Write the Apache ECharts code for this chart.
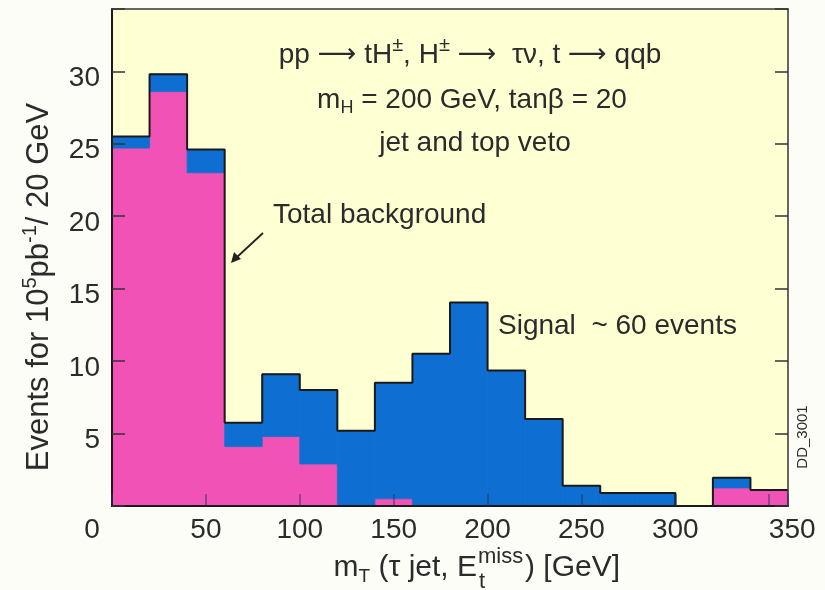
<!DOCTYPE html>
<html>
<head>
<meta charset="utf-8">
<script src="https://cdn.jsdelivr.net/npm/echarts@6/dist/echarts.min.js"></script>
<style>
  html, body { margin: 0; padding: 0; background: #fdfdf8; }
  #chart { width: 825px; height: 590px; }
</style>
</head>
<body>
<div id="chart"></div>
<script>
// bin lower edges, 20 GeV wide
const binEdges = [0, 20, 40, 60, 80, 100, 120, 140, 160, 180, 200, 220, 240, 260, 280, 300, 320, 340]
const binWidth = 20
// total background (pink)
const background = [24.7, 28.6, 23.0, 4.1, 4.8, 2.9, 0, 0.5, 0, 0, 0, 0, 0, 0, 0, 0, 1.25, 1.1]
// signal stacked on the background (blue)
const signal = [0.8, 1.2, 1.6, 1.65, 4.3, 5.1, 5.2, 8.0, 10.5, 14.05, 9.35, 6.0, 1.4, 0.9, 0.9, 0, 0.7, 0]
const xTicks = [0, 50, 100, 150, 200, 250, 300, 350]
const yTicks = [5, 10, 15, 20, 25, 30]

const FONT = '"Liberation Sans", Arial, sans-serif'
const TXT = '#2b2b2b'
const PINK = '#f052b5'
const BLUE = '#0f6ed2'

const bgRects = binEdges.map((x, i) => [x, x + binWidth, 0, background[i]])
const sigRects = binEdges.map((x, i) => [x, x + binWidth, background[i], background[i] + signal[i]])
const outline = binEdges.map((x, i) => [x, background[i] + signal[i]])
outline.push([binEdges[binEdges.length - 1] + binWidth, background[background.length - 1] + signal[signal.length - 1]])

function rectRenderer(color) {
    return function (params, api) {
        const p0 = api.coord([api.value(0), api.value(3)])
        const p1 = api.coord([api.value(1), api.value(2)])
        if (p1[1] - p0[1] <= 0) return null
        return {
            type: 'rect',
            shape: { x: p0[0], y: p0[1], width: p1[0] - p0[0], height: p1[1] - p0[1] },
            style: { fill: color, stroke: color, lineWidth: 0.8 }
        }
    }
}

const arrowRich = { fontSize: 27, fontFamily: '"DejaVu Sans", sans-serif', fill: TXT }

const chart = echarts.init(document.getElementById('chart'))

const option = {
    backgroundColor: '#fdfdf8',
    animation: false,
    grid: {
        left: 112, right: 37, top: 9, bottom: 84,
        show: true, backgroundColor: '#ffffd4', borderWidth: 0
    },
    xAxis: [
        {
            type: 'value', min: 0, max: 360, interval: 50, z: 5,
            axisLine: { onZero: false, lineStyle: { color: '#1a1a1a', width: 2 } },
            axisTick: { inside: true, length: 12, lineStyle: { color: '#223355', width: 1.5, opacity: 0.6 } },
            splitLine: { show: false },
            axisLabel: {
                margin: 10, fontSize: 28, color: TXT, fontFamily: FONT,
                formatter: v => v === 0 ? '{a|0}' : v === 350 ? '{b|350}' : (xTicks.includes(v) ? String(v) : ''),
                rich: {
                    a: { fontSize: 28, color: TXT, fontFamily: FONT, padding: [0, 40, 0, 0] },
                    b: { fontSize: 28, color: TXT, fontFamily: FONT, padding: [0, 0, 0, 46] }
                }
            }
        },
        {
            type: 'value', position: 'top', min: 0, max: 360, interval: 50, z: 5,
            axisLine: { onZero: false, lineStyle: { color: '#333', width: 1.5 } },
            axisTick: { show: false }, axisLabel: { show: false }, splitLine: { show: false }
        }
    ],
    yAxis: [
        {
            type: 'value', min: 0, max: 34.3, interval: 5, z: 5,
            axisLine: { show: true, onZero: false, lineStyle: { color: '#1a1a1a', width: 2 } },
            axisTick: { show: true, inside: true, length: 13, lineStyle: { color: '#333', width: 1.5 } },
            splitLine: { show: false },
            axisLabel: {
                margin: 12, fontSize: 28, color: TXT, fontFamily: FONT,
                formatter: v => yTicks.includes(v) ? '{v|' + v + '}' : '',
                rich: { v: { fontSize: 28, color: TXT, fontFamily: FONT, lineHeight: 28, padding: [14, 0, 0, 0] } }
            }
        },
        {
            type: 'value', position: 'right', min: 0, max: 34.3, interval: 5, z: 5,
            axisLine: { show: true, onZero: false, lineStyle: { color: '#333', width: 1.5 } },
            axisTick: { show: true, inside: true, length: 13, lineStyle: { color: '#333', width: 1.5 } },
            splitLine: { show: false }, axisLabel: { show: false }
        }
    ],
    series: [
        {
            name: 'Total background', type: 'custom', renderItem: rectRenderer(PINK),
            encode: { x: [0, 1], y: [2, 3] },
            data: bgRects, z: 2
        },
        {
            name: 'Signal', type: 'custom', renderItem: rectRenderer(BLUE),
            encode: { x: [0, 1], y: [2, 3] },
            data: sigRects, z: 2
        },
        {
            name: 'Outline', type: 'line', step: 'end', symbol: 'none',
            lineStyle: { color: '#1a1a1a', width: 2 },
            data: outline, z: 3
        }
    ],
    graphic: [
        {
            type: 'text',
            style: {
                x: 470, y: 55, align: 'center', verticalAlign: 'middle',
                text: 'pp {ar|\u27f6} tH{sup|\u00b1}, H{sup|\u00b1} {ar|\u27f6}  \u03c4\u03bd, t {ar|\u27f6} qqb',
                font: '28px ' + FONT, fill: TXT,
                rich: {
                    sup: { fontSize: 20, fontFamily: FONT, fill: TXT, padding: [0, 0, 20, 0] },
                    ar: arrowRich
                }
            }
        },
        {
            type: 'text',
            style: {
                x: 472, y: 100, align: 'center', verticalAlign: 'middle',
                text: 'm{sub|H} = 200 GeV, tan\u03b2 = 20',
                font: '28px ' + FONT, fill: TXT,
                rich: { sub: { fontSize: 18, fontFamily: FONT, fill: TXT, padding: [16, 0, 0, 0] } }
            }
        },
        {
            type: 'text',
            style: {
                x: 475, y: 143, align: 'center', verticalAlign: 'middle',
                text: 'jet and top veto', font: '28px ' + FONT, fill: TXT
            }
        },
        {
            type: 'text',
            style: {
                x: 273, y: 215, align: 'left', verticalAlign: 'middle',
                text: 'Total background', font: '28px ' + FONT, fill: TXT
            }
        },
        {
            type: 'line',
            shape: { x1: 263, y1: 233, x2: 236, y2: 258 },
            style: { stroke: '#222', lineWidth: 1.8 }
        },
        {
            type: 'polygon',
            shape: { points: [[231, 263], [234, 252], [241, 259]] },
            style: { fill: '#222' }
        },
        {
            type: 'text',
            style: {
                x: 498, y: 326, align: 'left', verticalAlign: 'middle',
                text: 'Signal  ~ 60 events', font: '28px ' + FONT, fill: TXT
            }
        },
        {
            type: 'text', x: 803, y: 437, rotation: Math.PI / 2,
            style: {
                x: 0, y: 0, align: 'center', verticalAlign: 'middle',
                text: 'DD_3001', font: '15px ' + FONT, fill: TXT
            }
        },
        {
            type: 'text', x: 39, y: 287, rotation: Math.PI / 2,
            style: {
                x: 0, y: 0, align: 'center', verticalAlign: 'middle',
                text: 'Events for 10{sup|5}pb{sup|-1}/ 20 GeV',
                font: '31px ' + FONT, fill: TXT,
                rich: { sup: { fontSize: 20, fontFamily: FONT, fill: TXT, padding: [0, 0, 17, 0] } }
            }
        },
        // x axis title, split so E carries both t (below) and miss (above)
        {
            type: 'text',
            style: {
                x: 477, y: 568, align: 'right', verticalAlign: 'middle',
                text: 'm{sub|T} (\u03c4 jet, E',
                font: '30px ' + FONT, fill: TXT,
                rich: { sub: { fontSize: 19, fontFamily: FONT, fill: TXT, padding: [17, 0, 0, 0] } }
            }
        },
        {
            type: 'text',
            style: {
                x: 478, y: 557, align: 'left', verticalAlign: 'middle',
                text: 'miss', font: '22px ' + FONT, fill: TXT
            }
        },
        {
            type: 'text',
            style: {
                x: 479, y: 582, align: 'left', verticalAlign: 'middle',
                text: 't', font: '22px ' + FONT, fill: TXT
            }
        },
        {
            type: 'text',
            style: {
                x: 525, y: 568, align: 'left', verticalAlign: 'middle',
                text: ') [GeV]', font: '30px ' + FONT, fill: TXT
            }
        }
    ]
}

chart.setOption(option)
</script>
</body>
</html>
